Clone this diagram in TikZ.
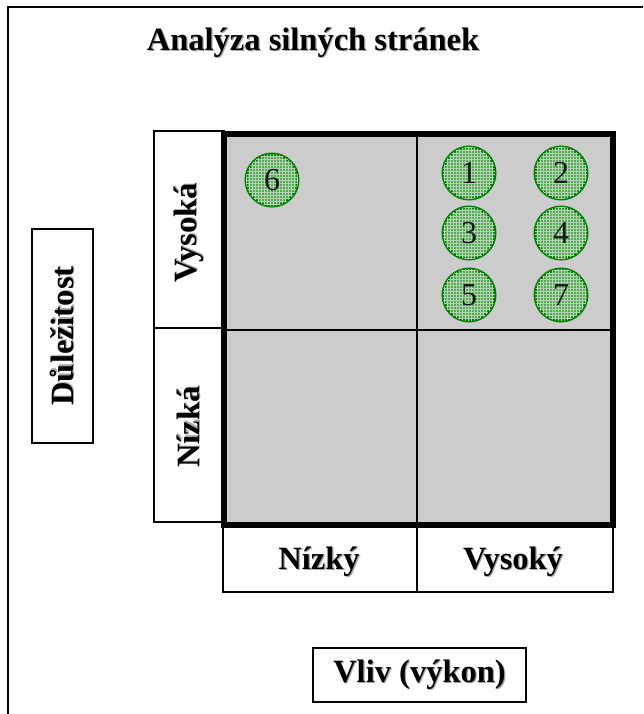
\documentclass[tikz,border=0pt]{standalone}
\usepackage{fontspec}
\setmainfont{Liberation Serif}
\usetikzlibrary{patterns}
\definecolor{cellgray}{RGB}{204,204,204}
\definecolor{dotgreen}{RGB}{0,128,0}
\definecolor{dotfill}{RGB}{92,166,92}
\definecolor{dotgrid}{RGB}{175,215,175}
% bold caption with a soft grey drop shadow
\newcommand\shadowtext[1]{\makebox[0pt][l]{\kern1.2pt\raisebox{-1.2pt}{\textcolor{black!35}{#1}}}#1}
\begin{document}
\begin{tikzpicture}[x=1pt,y=-1pt,
  lbl/.style={font=\fontsize{32.5}{36}\selectfont\bfseries, inner sep=0pt},
  thinbox/.style={draw=black, line width=1.5pt},
  dot/.style={circle, draw=dotgreen, line width=3pt, fill=dotfill,
    postaction={pattern=grid, pattern color=dotgrid},
    minimum size=52pt, inner sep=0pt,
    font=\fontsize{32}{34}\selectfont, text=black!90}]
\useasboundingbox (0,0) rectangle (643,714);

% page frame (left and top edges)
\draw[line width=2pt] (8,714) -- (8,7) -- (643,7);

% title
\node[lbl] (title) at (313,43) {\shadowtext{Analýza silných stránek}};

% row labels (importance)
\draw[thinbox] (154,131) rectangle (224,522);
\draw[line width=1.5pt] (154,328) -- (224,328);
\node[lbl, rotate=90] (high) at (189,233) {\shadowtext{Vysoká}};
\node[lbl, rotate=90] (low) at (189,427) {\shadowtext{Nízká}};

% column labels (influence)
\draw[thinbox] (223,527) rectangle (613,592);
\draw[line width=1.5pt] (417,527) -- (417,592);
\node[lbl] (lowc) at (319,562) {\shadowtext{Nízký}};
\node[lbl] (highc) at (513,562) {\shadowtext{Vysoký}};

% matrix body
\fill[cellgray] (224,134) rectangle (613,525);
\draw[line width=2.2pt] (417,134) -- (417,525);
\draw[line width=2.2pt] (224,330) -- (613,330);
\draw[line width=6pt] (224,134) rectangle (613,525);

% axis captions
\node[thinbox, lbl, rotate=90, minimum width=214pt, minimum height=61pt, line width=2pt]
  (imp) at (62.5,336) {\shadowtext{Důležitost}};
\node[thinbox, lbl, minimum width=213pt, minimum height=54pt, line width=2pt]
  (vliv) at (419.5,675) {\shadowtext{Vliv (výkon)}};

% strengths
\node[dot] (s6) at (272,180) {6};
\node[dot] (s1) at (469,173) {1};
\node[dot] (s2) at (561,173) {2};
\node[dot] (s3) at (469,233) {3};
\node[dot] (s4) at (561,233) {4};
\node[dot] (s5) at (469,295) {5};
\node[dot] (s7) at (561,295) {7};
\end{tikzpicture}
\end{document}
